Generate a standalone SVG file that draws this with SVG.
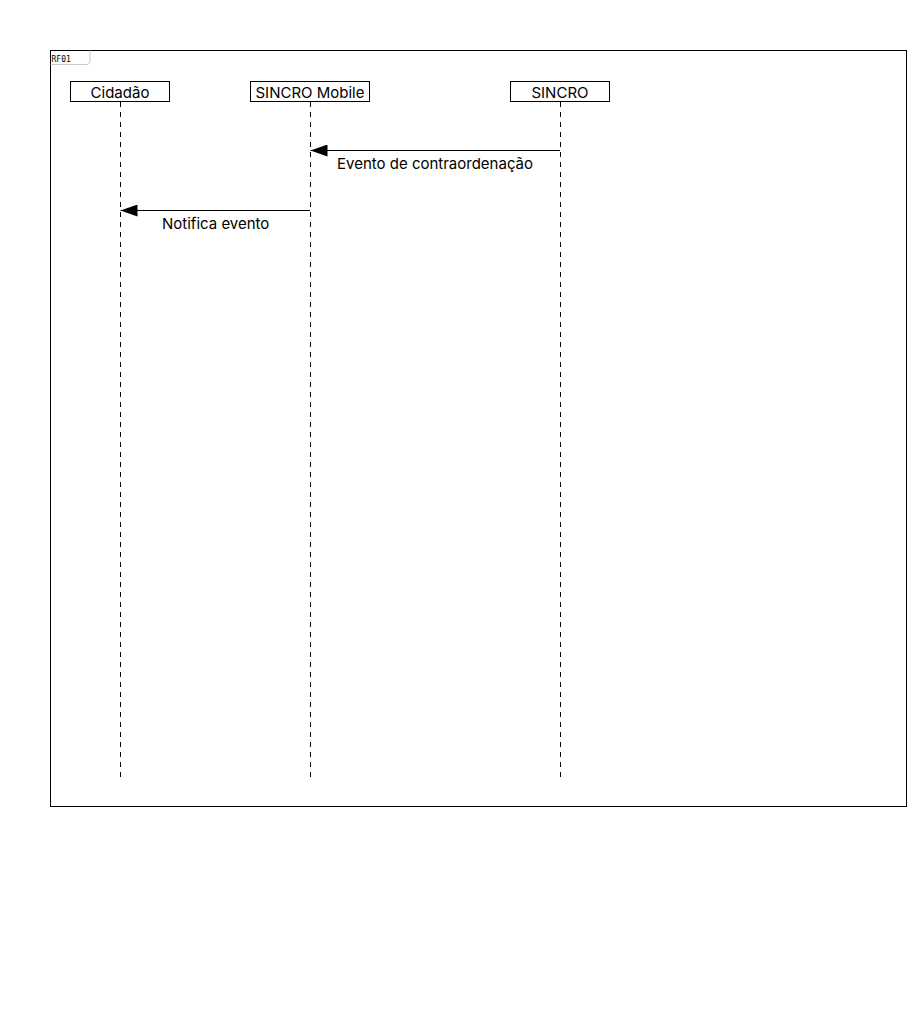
<svg xmlns="http://www.w3.org/2000/svg" width="917" height="1020" viewBox="0 0 917 1020">
<style>
.box{fill:#fff;stroke:#000;stroke-width:1}
.life{stroke:#000;stroke-width:1;stroke-dasharray:5 5;fill:none}
.msg{stroke:#000;stroke-width:1;fill:none}
.lbl{font-family:Inter,Roboto,"Liberation Sans",sans-serif;font-size:15px;fill:#000}
.title{font-family:"DejaVu Sans Mono","Liberation Mono",monospace;font-size:8px;fill:#000}
</style>
<defs>
<marker id="ah" markerWidth="18" markerHeight="12" refX="17" refY="6" orient="auto" markerUnits="userSpaceOnUse">
<path d="M17,6 L0,0 L0,12 Z" fill="#000"/>
</marker>
</defs>
<rect width="917" height="1020" fill="#fff"/>
<g id="frame">
<rect x="50.5" y="50.5" width="856" height="756" fill="none" stroke="#000" stroke-width="1"/>
<path d="M50.5,64.5 H86 Q90,64.5 90,60 V50.5" fill="none" stroke="#ccc" stroke-width="1"/>
<text class="title" x="51.5" y="61.5">RF01</text>
</g>
<g id="lifelines">
<line class="life" x1="120.5" y1="102" x2="120.5" y2="777"/>
<line class="life" x1="310.5" y1="102" x2="310.5" y2="777"/>
<line class="life" x1="560.5" y1="102" x2="560.5" y2="777"/>
</g>
<g id="cidadao">
<rect class="box" x="70.5" y="81.5" width="99" height="20"/>
<text class="lbl" x="120" y="97.5" text-anchor="middle">Cidadão</text>
</g>
<g id="sincro-mobile">
<rect class="box" x="250.5" y="81.5" width="119" height="20"/>
<text class="lbl" x="310" y="97.5" text-anchor="middle">SINCRO Mobile</text>
</g>
<g id="sincro">
<rect class="box" x="510.5" y="81.5" width="99" height="20"/>
<text class="lbl" x="560" y="97.5" text-anchor="middle">SINCRO</text>
</g>
<g id="connectors">
<line class="msg" x1="560" y1="150.5" x2="310.5" y2="150.5" marker-end="url(#ah)"/>
<text class="lbl" x="337" y="169">Evento de contraordenação</text>
<line class="msg" x1="310" y1="210.5" x2="120.5" y2="210.5" marker-end="url(#ah)"/>
<text class="lbl" x="162" y="229">Notifica evento</text>
</g>
</svg>
